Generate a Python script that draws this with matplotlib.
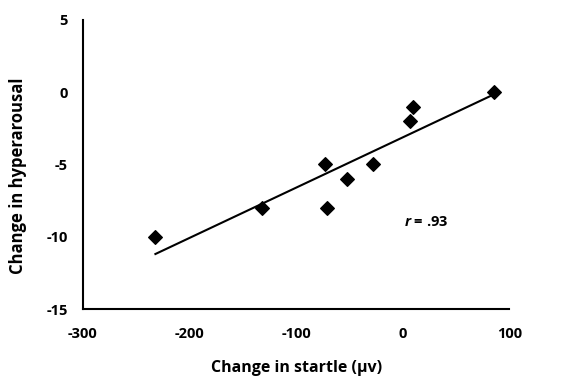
import matplotlib.pyplot as plt
import numpy as np

plt.rcParams['font.family'] = ['Open Sans', 'DejaVu Sans']
plt.rcParams['mathtext.fontset'] = 'custom'
plt.rcParams['mathtext.it'] = 'Open Sans:italic:bold'
plt.rcParams['axes.unicode_minus'] = False

# change in startle (µv) vs change in hyperarousal
startle = [-232, -132, -73, -71, -52, -28, 7, 10, 86]
hyperarousal = [-10, -8, -5, -8, -6, -5, -2, -1, 0]
r_label = "$r$ = .93"

fig = plt.figure(figsize=(5.8, 3.83), dpi=100)
ax = fig.add_axes([0.143, 0.193, 0.735, 0.755])

ax.scatter(startle, hyperarousal, marker='D', s=48, color='black', zorder=3)

# linear trend line
k, b = np.polyfit(startle, hyperarousal, 1)
xs = np.array([min(startle), max(startle)])
ax.plot(xs, k * xs + b, color='black', linewidth=1.5)

ax.text(1.5, -9.0, r_label, fontsize=10.5, fontweight='bold', va='center')

ax.set_xlim(-300, 100)
ax.set_ylim(-15, 5)
ax.set_xticks([-300, -200, -100, 0, 100])
ax.set_yticks([5, 0, -5, -10, -15])
ax.spines['top'].set_visible(False)
ax.spines['right'].set_visible(False)
ax.spines['left'].set_linewidth(1.5)
ax.spines['bottom'].set_linewidth(1.5)
ax.tick_params(length=0, labelsize=10.5)
ax.tick_params(axis='x', pad=13)
ax.tick_params(axis='y', pad=11)
for lab in ax.get_xticklabels() + ax.get_yticklabels():
    lab.set_fontweight('bold')

ax.set_xlabel("Change in startle (µv)", fontsize=11.5, fontweight='bold')
ax.set_ylabel("Change in hyperarousal", fontsize=12, fontweight='bold')
ax.xaxis.set_label_coords(0.5, -0.175)
ax.yaxis.set_label_coords(-0.132, 0.46)

fig.savefig("out.png", dpi=100)
